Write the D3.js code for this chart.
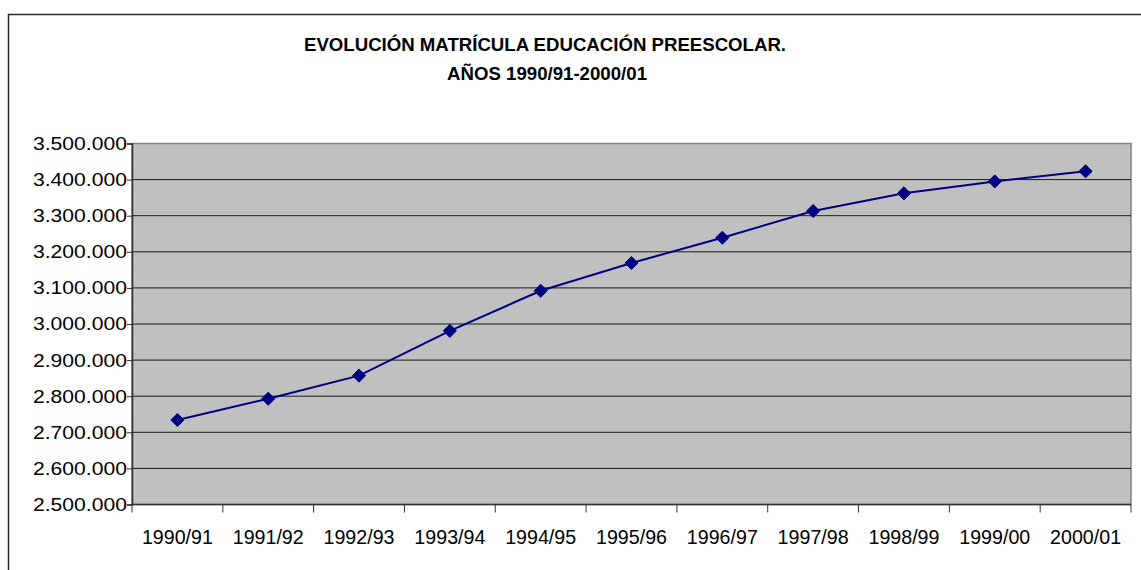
<!DOCTYPE html>
<html>
<head>
<meta charset="utf-8">
<script src="https://cdn.jsdelivr.net/npm/d3@7"></script>
<style>
  html, body { margin: 0; padding: 0; background: #fff; }
  svg { display: block; font-family: Arial, "Liberation Sans", sans-serif; }
</style>
</head>
<body>
<svg id="chart" width="1141" height="570"></svg>
<script>
const categories = ["1990/91","1991/92","1992/93","1993/94","1994/95","1995/96","1996/97","1997/98","1998/99","1999/00","2000/01"];
const values = [2734000, 2793000, 2857000, 2981000, 3092000, 3169000, 3239000, 3313000, 3362000, 3395000, 3423000];
const yTicks = [2500000, 2600000, 2700000, 2800000, 2900000, 3000000, 3100000, 3200000, 3300000, 3400000, 3500000];
const titleLines = ["EVOLUCIÓN MATRÍCULA EDUCACIÓN PREESCOLAR.", "AÑOS 1990/91-2000/01"];

const svg = d3.select("#chart");
const plot = { left: 132, top: 143.5, right: 1131, bottom: 504.5 };

// outer frame (top and left edges visible)
svg.append("path")
  .attr("d", "M8.5,570 L8.5,14.5 L1141,14.5")
  .attr("fill", "none").attr("stroke", "#2a2a2a").attr("stroke-width", 1.5);

// title
const title = svg.append("text").attr("text-anchor", "middle")
  .attr("font-weight", "bold").attr("font-size", 18.5).attr("fill", "#000");
title.append("tspan").attr("x", 545).attr("y", 51).attr("textLength", 482)
  .attr("lengthAdjust", "spacingAndGlyphs").text(titleLines[0]);
title.append("tspan").attr("x", 547).attr("y", 80).attr("textLength", 200)
  .attr("lengthAdjust", "spacingAndGlyphs").text(titleLines[1]);

const x = d3.scaleBand().domain(categories).range([plot.left, plot.right]).padding(0);
const y = d3.scaleLinear().domain([2500000, 3500000]).range([plot.bottom, plot.top]);

// plot background
svg.append("rect")
  .attr("x", plot.left).attr("y", plot.top)
  .attr("width", plot.right - plot.left).attr("height", plot.bottom - plot.top)
  .attr("fill", "#c0c0c0").attr("stroke", "#808080").attr("stroke-width", 1.5);

// gridlines
svg.append("g").selectAll("line")
  .data(yTicks.filter(t => t > 2500000 && t < 3500000))
  .join("line")
  .attr("x1", plot.left).attr("x2", plot.right)
  .attr("y1", d => y(d)).attr("y2", d => y(d))
  .attr("stroke", "#1a1a1a").attr("stroke-width", 1);

const fmt = d => d3.format(",")(d).replace(/,/g, ".");

// y axis
const yAxis = svg.append("g").attr("transform", `translate(${plot.left},0)`)
  .call(d3.axisLeft(y).tickValues(yTicks).tickFormat(fmt).tickSize(5).tickPadding(0));
yAxis.select(".domain").attr("stroke", "#333").attr("stroke-width", 1.5);
yAxis.selectAll(".tick line").attr("stroke", "#333");
yAxis.selectAll("text")
  .attr("font-size", 18.5).attr("fill", "#000")
  .attr("font-family", "Arial, 'Liberation Sans', sans-serif")
  .attr("textLength", 94).attr("lengthAdjust", "spacingAndGlyphs");

// x axis: ticks at category boundaries
const bounds = categories.map(c => x(c)).concat([plot.right]);
const xg = svg.append("g");
xg.append("line").attr("x1", plot.left).attr("x2", plot.right)
  .attr("y1", plot.bottom).attr("y2", plot.bottom)
  .attr("stroke", "#333").attr("stroke-width", 1.5);
xg.selectAll("line.tk").data(bounds).join("line").attr("class", "tk")
  .attr("x1", d => d).attr("x2", d => d)
  .attr("y1", plot.bottom).attr("y2", plot.bottom + 8)
  .attr("stroke", "#333").attr("stroke-width", 1);
xg.selectAll("text").data(categories).join("text")
  .attr("x", d => x(d) + x.bandwidth() / 2)
  .attr("y", plot.bottom + 39.5)
  .attr("text-anchor", "middle")
  .attr("font-size", 19.5).attr("fill", "#000")
  .attr("textLength", 71).attr("lengthAdjust", "spacingAndGlyphs")
  .text(d => d);

// line
const line = d3.line().x((d, i) => x(categories[i]) + x.bandwidth() / 2).y(d => y(d));
svg.append("path").datum(values)
  .attr("d", line).attr("fill", "none")
  .attr("stroke", "#000080").attr("stroke-width", 2);

// diamond markers
const diamond = d3.symbol().type(d3.symbolDiamond2).size(110);
svg.append("g").selectAll("path").data(values).join("path")
  .attr("transform", (d, i) => `translate(${x(categories[i]) + x.bandwidth() / 2},${y(d)})`)
  .attr("d", diamond)
  .attr("fill", "#000080").attr("stroke", "#000080").attr("stroke-width", 1);
</script>
</body>
</html>
